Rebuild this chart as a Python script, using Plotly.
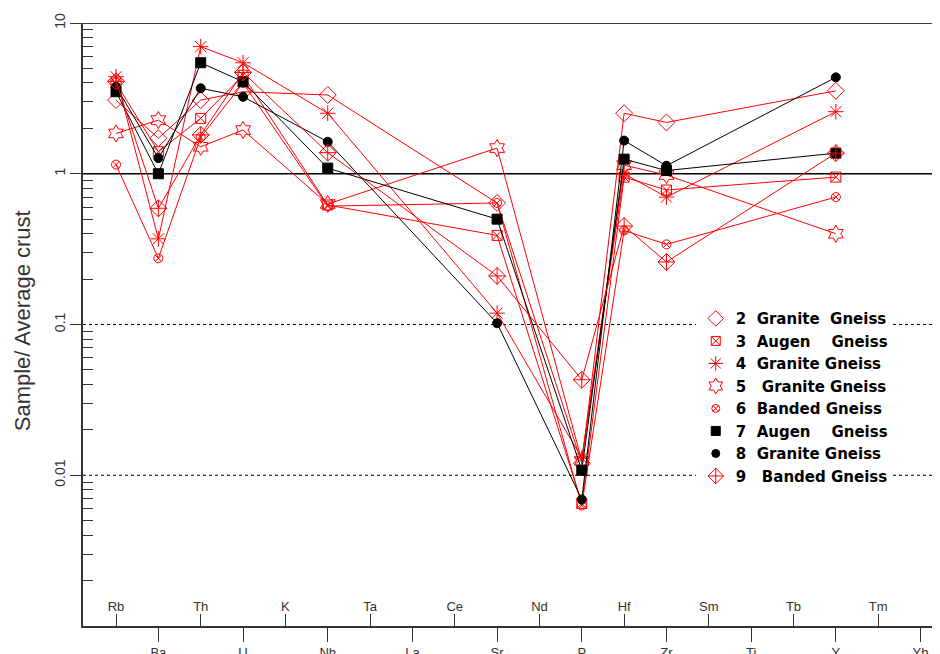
import plotly.graph_objects as go

# ---- data ----
categories = ["Rb", "Ba", "Th", "U", "K", "Nb", "Ta", "La", "Ce", "Sr",
              "Nd", "P", "Hf", "Zr", "Sm", "Ti", "Tb", "Y", "Tm", "Yb"]
upper_labels = ["Rb", "Th", "K", "Ta", "Ce", "Nd", "Hf", "Sm", "Tb", "Tm"]
lower_labels = ["Ba", "U", "Nb", "La", "Sr", "P", "Zr", "Ti", "Y", "Yb"]
elements = ["Rb", "Ba", "Th", "U", "Nb", "Sr", "P", "Hf", "Zr", "Y"]

s2_granite = [3.08, 1.72, 3.08, 3.50, 3.33, 0.64, 0.012, 2.52, 2.19, 3.55]
s3_augen = [4.00, 1.40, 2.33, 4.50, 0.62, 0.39, 0.0065, 0.95, 0.78, 0.95]
s4_granite = [4.40, 0.37, 6.97, 5.45, 2.52, 0.119, 0.013, 1.00, 0.70, 2.58]
s5_granite = [1.85, 2.27, 1.51, 1.95, 0.63, 1.48, 0.0125, 1.14, 0.98, 0.40]
s6_banded = [1.15, 0.275, 1.75, 4.00, 0.61, 0.64, 0.0063, 0.42, 0.34, 0.70]
s7_augen = [3.50, 1.00, 5.45, 4.08, 1.09, 0.50, 0.0108, 1.25, 1.05, 1.37]
s8_granite = [3.78, 1.27, 3.69, 3.24, 1.63, 0.102, 0.0069, 1.66, 1.13, 4.36]
s9_banded = [4.10, 0.59, 1.81, 4.70, 1.38, 0.21, 0.043, 0.45, 0.26, 1.37]

NB = "\u00a0"
names = [f"2{NB*2}Granite{NB*2}Gneiss", f"3{NB*2}Augen{NB*4}Gneiss",
         f"4{NB*2}Granite{NB}Gneiss", f"5{NB*3}Granite{NB}Gneiss",
         f"6{NB*2}Banded{NB}Gneiss", f"7{NB*2}Augen{NB*4}Gneiss",
         f"8{NB*2}Granite{NB}Gneiss", f"9{NB*3}Banded{NB}Gneiss"]
series = [s2_granite, s3_augen, s4_granite, s5_granite,
          s6_banded, s7_augen, s8_granite, s9_banded]

RED = "#ff0000"
BLK = "#000000"
styles = [
    dict(color=RED, symbol="diamond-open", size=13),
    dict(color=RED, symbol="square-x-open", size=10),
    dict(color=RED, symbol="asterisk-open", size=13),
    dict(color=RED, symbol="hexagram-open", size=13),
    dict(color=RED, symbol="circle-x-open", size=9),
    dict(color=BLK, symbol="square", size=10),
    dict(color=BLK, symbol="circle", size=9),
    dict(color=RED, symbol="diamond-cross-open", size=13),
]

fig = go.Figure()

# invisible trace to define categories on the overlay axis
fig.add_trace(go.Scatter(x=categories, y=[1] * len(categories), mode="markers",
                         marker=dict(opacity=0), hoverinfo="skip",
                         showlegend=False, xaxis="x2", yaxis="y"))

for vals, st in zip(series, styles):
    fig.add_trace(go.Scatter(
        x=elements, y=vals, mode="lines+markers", showlegend=False,
        line=dict(color=st["color"], width=1),
        marker=dict(color=st["color"], symbol=st["symbol"], size=st["size"],
                    line=dict(color=st["color"], width=1)),
    ))

# legend entries (markers only)
for name, st in zip(names, styles):
    fig.add_trace(go.Scatter(
        x=[None], y=[None], mode="markers", name=name, showlegend=True,
        marker=dict(color=st["color"], symbol=st["symbol"], size=st["size"] - 1,
                    line=dict(color=st["color"], width=1)),
    ))

x_range = [-0.78, 19.46]
tickfont = dict(family="Liberation Sans Narrow, Liberation Sans, Arial", size=13, color="#333333")
ytickfont = dict(family="Liberation Sans, Arial", size=14, color="#333333")

fig.update_layout(
    width=932, height=646,
    margin=dict(l=75, r=0, t=15, b=28, autoexpand=False),
    plot_bgcolor="white", paper_bgcolor="white",
    xaxis=dict(type="category", categoryorder="array", categoryarray=categories,
               range=x_range, tickmode="array", tickvals=lower_labels,
               ticks="outside", ticklen=14, tickcolor="#333333", tickwidth=1,
               showline=True, linecolor="#333333", linewidth=1.5, automargin=False,
               showgrid=False, zeroline=False, tickfont=tickfont),
    xaxis2=dict(type="category", categoryorder="array", categoryarray=categories,
                overlaying="x", matches="x", anchor="y", side="bottom",
                range=x_range, tickmode="array", tickvals=upper_labels,
                ticks="inside", ticklen=12, tickcolor="#333333", tickwidth=1,
                ticklabelposition="inside", showline=False, automargin=False,
                showgrid=False, zeroline=False, tickfont=tickfont),
    yaxis=dict(type="log", range=[-3, 1], tickmode="array",
               tickvals=[0.001, 0.01, 0.1, 1, 10],
               ticktext=["0.001", "0.01", "0.1", "1", "10"],
               tickangle=-90, ticks="outside", ticklen=11, automargin=False,
               tickcolor="#333333", showline=True, linecolor="#333333",
               linewidth=1.5, showgrid=False, zeroline=False, tickfont=ytickfont,
               minor=dict(ticks="inside", ticklen=10, tickcolor="#333333",
                          tickvals=[m * 10 ** e for e in range(-3, 1) for m in range(2, 10)],
                          showgrid=False)),
    legend=dict(x=0.715, y=0.537, xanchor="left", yanchor="top",
                bgcolor="white", borderwidth=0,
                font=dict(family="DejaVu Sans", size=15, color="black", weight="bold"),
                itemwidth=30, tracegroupgap=0),
    shapes=[
        dict(type="line", xref="paper", yref="y", x0=0, x1=1, y0=10, y1=10,
             line=dict(color="black", width=1.5)),
        dict(type="line", xref="paper", yref="y", x0=0, x1=1, y0=1, y1=1,
             line=dict(color="black", width=1.5), layer="below"),
        dict(type="line", xref="paper", yref="y", x0=0, x1=1, y0=0.1, y1=0.1,
             line=dict(color="black", width=1.2, dash="dot"), layer="below"),
        dict(type="line", xref="paper", yref="y", x0=0, x1=1, y0=0.01, y1=0.01,
             line=dict(color="black", width=1.2, dash="dot"), layer="below"),
    ],
    annotations=[
        dict(text="Sample/ Average crust", xref="paper", yref="paper",
             x=-0.0712, y=0.507, xanchor="center", yanchor="middle",
             textangle=-90, showarrow=False,
             font=dict(family="Liberation Sans, Arial", size=22, color="#333333")),
    ],
)

fig.write_html("out.html")
